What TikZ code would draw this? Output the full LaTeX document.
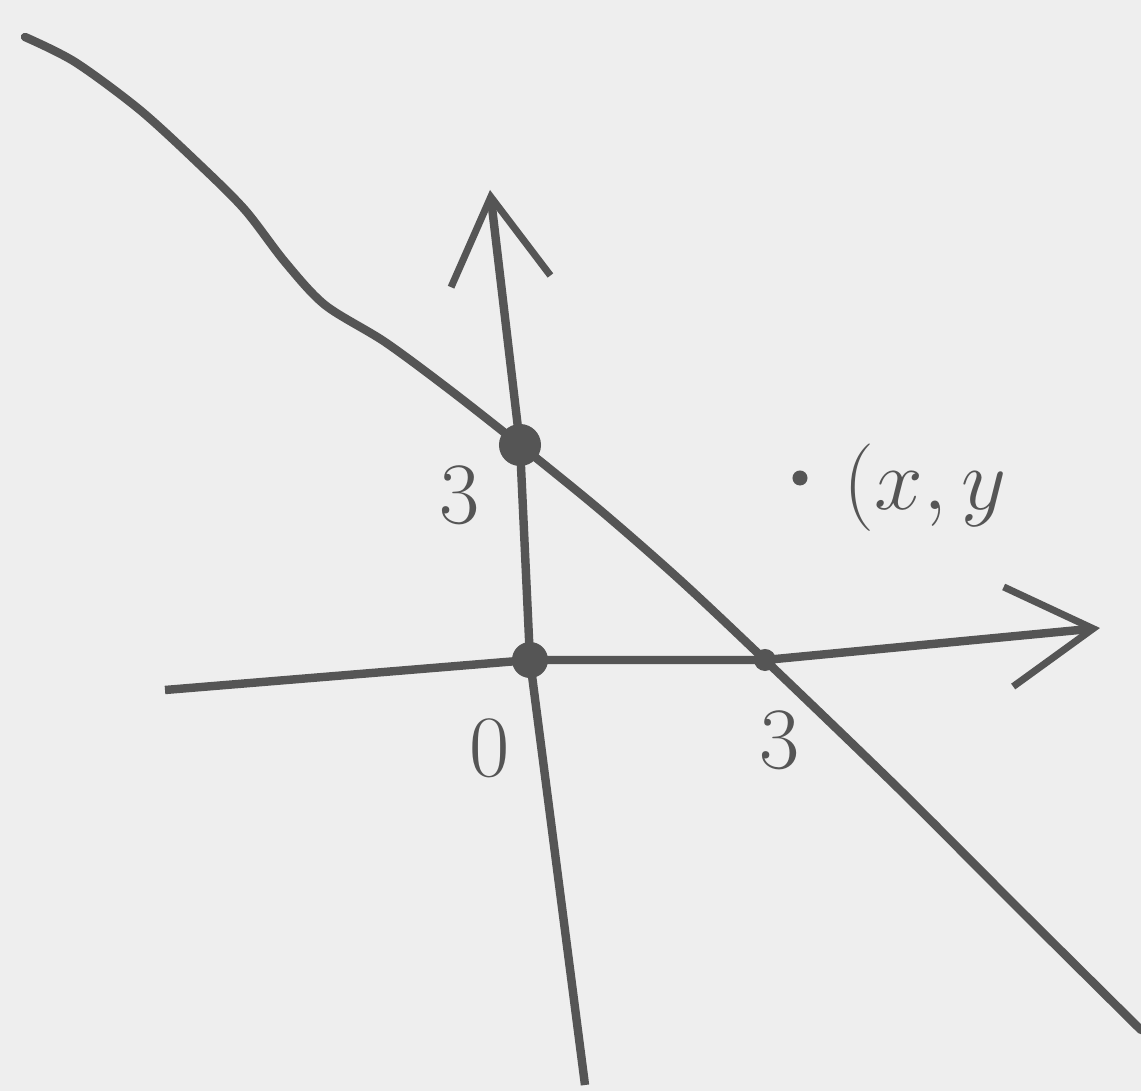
\documentclass[tikz,border=0pt]{standalone}
\usetikzlibrary{arrows.meta}
\definecolor{paper}{RGB}{238,238,238}
\definecolor{ink}{RGB}{85,85,85}
\begin{document}
\begin{tikzpicture}[x=0.01cm, y=-0.01cm, line width=2.4pt, ink,
    dot/.style={circle, fill=ink, inner sep=0pt},
    lbl/.style={font=\fontsize{30}{32}\selectfont, text=ink},
    axis/.style={-{Straight Barb[length=0.85cm, width=1.0cm, line width=2pt]}}]
    \fill[paper] (0,0) rectangle (1141,1091);
    \useasboundingbox (0,0) rectangle (1141,1091);

    % Points
    \node[dot, minimum size=0.42cm] (A) at (520,445) {};
    \node[dot, minimum size=0.36cm] (O) at (530,660) {};
    \node[dot, minimum size=0.22cm] (B) at (765,660) {};
    \node[dot, minimum size=0.15cm] (P) at (800,478) {};
    \coordinate (xl) at (165,690);
    \coordinate (xr) at (1100,628);
    \coordinate (yb) at (585,1085);
    \coordinate (yt) at (490,190);

    % Axes
    \draw[axis] (xl) -- (O.center) -- (B.center) -- (xr);
    \draw[axis] (yb) -- (O.center) -- (A.center) -- (yt);

    % Line through both intercepts
    \draw[line cap=round] plot[smooth] coordinates {(25,37) (75,62) (140,110) (200,165)
        (245,210) (285,262) (325,305) (385,342) (450,390) (A.center) (600,510)
        (680,580) (B.center) (900,790) (1020,910) (1141,1030)};

    % Labels
    \node[lbl] (la) at (460,495) {$3$};
    \node[lbl] (lo) at (490,748) {$0$};
    \node[lbl] (lb) at (780,740) {$3$};
    \node[lbl, anchor=west] (lp) at (828,488) {$(x,y$};
\end{tikzpicture}
\end{document}
